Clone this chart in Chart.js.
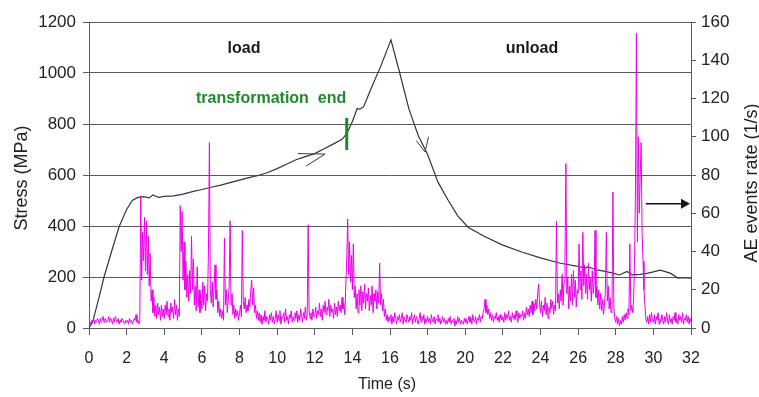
<!DOCTYPE html>
<html>
<head>
<meta charset="utf-8">
<script src="https://cdn.jsdelivr.net/npm/chart.js@4/dist/chart.umd.min.js"></script>
<style>
  body { margin: 0; background: #fff; }
  #wrap { width: 759px; height: 397px; }
</style>
</head>
<body>
<div id="wrap"><canvas id="myChart"></canvas></div>
<script>
/*--------------------------------------------------------------------*/
// stress curve (s, MPa)
const stressTime = [0, 0.2, 0.5, 0.8, 1.2, 1.6, 2.0, 2.3, 2.6, 2.9, 3.2, 3.4, 3.7, 4.0, 4.5, 5.0, 5.5, 6.0, 6.5, 7.0,
    7.5, 8.0, 8.5, 9.0, 9.5, 10.0, 10.5, 11.0, 11.5, 12.0, 12.5, 13.0, 13.45, 13.7, 14.0, 14.25, 14.4, 14.6, 15.0, 15.5,
    16.05, 16.5, 17.0, 17.5, 18.0, 18.55, 19.1, 19.6, 20.15, 21.0, 22.0, 23.0, 24.0, 25.0, 25.9, 26.4, 26.5, 27.0, 27.5, 27.9,
    28.2, 28.6, 28.9, 29.3, 29.65, 30.0, 30.35, 30.9, 31.3, 31.6, 32.0];
const stressValue = [0, 25, 110, 200, 300, 397, 465, 500, 512, 515, 510, 522, 512, 516, 518, 525, 535, 543, 552, 560,
    570, 580, 590, 598, 610, 625, 642, 660, 672, 684, 703, 722, 740, 762, 810, 860, 858, 868, 940, 1025,
    1130, 1005, 860, 755, 680, 572, 500, 440, 395, 360, 325, 298, 275, 255, 243, 235, 240, 228, 221, 214,
    208, 222, 208, 210, 214, 220, 227, 215, 196, 197, 195];

/*--------------------------------------------------------------------*/
// AE events rate (1/s), one value every 0.05 s
const aeStep = 0.05;
const aeRateLoad = [
    1,3,2,4,3,5,2,4,3,5,4,2,5,3,4,6,3,5,4,3,
    4,6,3,5,4,2,5,3,6,4,3,5,2,4,3,5,4,3,2,4,
    3,4,2,5,3,4,2,3,5,4,7,3,4,2,4,69,25,50,35,58,
    30,56,28,48,22,39,14,20,8,16,6,12,5,13,7,11,4,12,6,10,
    5,12,7,14,6,10,4,13,8,11,5,15,7,12,4,10,6,64,40,61,
    25,45,20,35,16,28,14,30,18,48,20,36,12,22,9,32,11,20,8,18,
    10,24,12,22,9,18,14,40,97,20,13,24,11,22,33,15,20,8,14,6,
    10,5,9,4,47,12,20,8,14,22,56,12,18,7,12,5,10,6,9,4,
    8,12,6,51,14,10,16,8,12,9,15,11,20,25,12,21,8,12,5,9,
    4,8,3,7,2,6,4,9,3,6,5,2,7,4,8,3,6,2,5,9,
    3,7,4,9,2,6,5,8,3,10,4,6,2,7,5,9,3,6,4,8,
    5,9,3,7,4,10,6,3,8,5,11,4,7,54,9,5,8,4,10,6,
    6,11,5,9,7,13,6,10,4,12,8,14,7,11,9,15,6,12,8,10,
    5,13,7,11,6,14,9,12,8,16,10,13,7,22,35,57,28,45,24,38,
    20,44,16,22,10,18,8,20,12,22,9,19,13,23,10,18,14,21,9,17,
    12,22,8,18,14,20,10,19,13,34,12,18,9,15,6,10,4,7,3,6
];
const aeRateUnload = [
    4,7,2,6,3,8,5,2,6,4,7,3,5,8,2,6,4,3,7,5,
    3,6,4,8,2,5,7,3,6,4,2,5,8,3,6,4,7,2,5,3,
    6,3,5,2,7,4,3,6,2,5,4,7,3,5,2,4,6,3,5,2,
    4,2,5,3,6,2,4,3,5,1,4,2,6,3,5,2,4,3,2,5,
    3,5,2,4,6,3,5,2,7,4,3,6,2,5,4,7,3,6,5,8,
    10,15,8,12,7,10,5,8,4,7,3,6,5,8,4,6,3,7,5,4,
    6,3,8,4,7,5,9,4,6,3,8,5,7,4,9,6,3,8,5,7,
    6,9,4,8,5,11,7,10,6,12,8,14,7,13,9,15,10,18,23,12,
    8,14,6,12,9,16,7,13,5,11,8,15,10,14,7,12,9,56,13,18,
    10,20,14,28,12,24,35,86,18,26,10,22,14,28,12,30,16,25,11,20,
    18,44,20,30,15,50,22,33,18,28,15,34,20,26,14,30,18,24,51,16,
    22,12,20,10,18,9,15,7,12,20,50,14,22,10,16,8,12,71,10,5,
    3,6,2,5,1,4,2,6,3,7,4,8,5,10,7,44,9,12,8,15,
    35,74,154,45,100,60,80,97,50,35,20,12,5,3,6,2,7,3,8,4,
    3,7,2,6,4,8,2,5,3,7,4,2,6,3,8,4,2,7,3,5,
    2,6,4,8,3,5,2,7,4,6,3,8,2,5,4,7,3,6,2,5,
    3
];

/*--------------------------------------------------------------------*/
// puntos para el grafico
const stressPoints = stressTime.map((t, i) => ({ x: t, y: stressValue[i] }));
const aeRate = aeRateLoad.concat(aeRateUnload);
const aePoints = aeRate.map((v, i) => ({ x: +(i * aeStep).toFixed(2), y: v }));

const font = '"Liberation Sans", Arial, sans-serif';
const gridColor = '#5a5a5a';
const plain = (v) => String(v);

/*--------------------------------------------------------------------*/
// textos, flechas y titulos de ejes
const notes = {
    id: 'notes',
    afterDatasetsDraw(chart) {
        const ctx = chart.ctx;
        const x = chart.scales.x, y = chart.scales.y, y1 = chart.scales.y1;
        const area = chart.chartArea;
        ctx.save();

        ctx.textAlign = 'center';
        ctx.textBaseline = 'middle';
        ctx.fillStyle = '#1a1a1a';
        ctx.font = 'bold 16px ' + font;
        ctx.fillText('load', x.getPixelForValue(8.24), y.getPixelForValue(1094));
        ctx.fillText('unload', x.getPixelForValue(23.55), y.getPixelForValue(1094));

        ctx.fillStyle = '#1d8a2c';
        ctx.fillText('transformation  end', x.getPixelForValue(9.68), y.getPixelForValue(898));

        // marca fin de transformacion
        ctx.strokeStyle = '#1d8a2c';
        ctx.lineWidth = 3;
        ctx.beginPath();
        ctx.moveTo(x.getPixelForValue(13.7), y.getPixelForValue(824));
        ctx.lineTo(x.getPixelForValue(13.7), y.getPixelForValue(698));
        ctx.stroke();

        // flechas sobre la curva
        ctx.strokeStyle = '#3a3a4a';
        ctx.lineWidth = 1;
        const barb = (tip, a, b) => {
            ctx.beginPath();
            ctx.moveTo(x.getPixelForValue(a[0]), y.getPixelForValue(a[1]));
            ctx.lineTo(x.getPixelForValue(tip[0]), y.getPixelForValue(tip[1]));
            ctx.lineTo(x.getPixelForValue(b[0]), y.getPixelForValue(b[1]));
            ctx.stroke();
        };
        barb([12.55, 682], [11.1, 684], [11.54, 635]);
        barb([17.86, 690], [17.4, 735], [18.05, 750]);

        // flecha negra hacia el eje derecho
        const ay = y1.getPixelForValue(65);
        const ax0 = x.getPixelForValue(29.6), ax1 = x.getPixelForValue(32);
        ctx.strokeStyle = '#111';
        ctx.fillStyle = '#111';
        ctx.lineWidth = 1.5;
        ctx.beginPath();
        ctx.moveTo(ax0, ay);
        ctx.lineTo(ax1 - 8, ay);
        ctx.stroke();
        ctx.beginPath();
        ctx.moveTo(ax1 - 1, ay);
        ctx.lineTo(ax1 - 10, ay - 5);
        ctx.lineTo(ax1 - 10, ay + 5);
        ctx.closePath();
        ctx.fill();

        // titulos
        ctx.fillStyle = '#222';
        ctx.font = '18px ' + font;
        ctx.save();
        ctx.translate(area.left - 67, 178);
        ctx.rotate(-Math.PI / 2);
        ctx.fillText('Stress (MPa)', 0, 0);
        ctx.restore();
        ctx.save();
        ctx.translate(area.right + 61, 183);
        ctx.rotate(-Math.PI / 2);
        ctx.fillText('AE events rate (1/s)', 0, 0);
        ctx.restore();
        ctx.font = '16px ' + font;
        ctx.fillText('Time (s)', 387, 385);

        ctx.restore();
    }
};

/*--------------------------------------------------------------------*/
// grafico
const ctx = document.getElementById('myChart');
const myChart = new Chart(ctx, {
    type: 'line',
    data: {
        datasets: [{
            label: 'AE events rate',
            data: aePoints,
            yAxisID: 'y1',
            borderColor: 'rgb(236,0,236)',
            borderWidth: 1,
            pointRadius: 0,
            tension: 0
        }, {
            label: 'Stress',
            data: stressPoints,
            yAxisID: 'y',
            borderColor: '#33334a',
            borderWidth: 1.2,
            pointRadius: 0,
            tension: 0
        }]
    },
    options: {
        responsive: true,
        maintainAspectRatio: false,
        animation: false,
        layout: { padding: { top: 22, left: 0, right: 0, bottom: 0 } },
        plugins: {
            legend: { display: false },
            tooltip: { enabled: false }
        },
        scales: {
            x: {
                type: 'linear',
                min: 0,
                max: 32,
                afterFit: (s) => { s.height = 69; },
                border: { display: true, color: gridColor, width: 1 },
                grid: { drawOnChartArea: false, tickLength: 7, color: gridColor },
                ticks: { stepSize: 2, autoSkip: false, maxRotation: 0, padding: 14, color: '#222',
                    callback: plain, font: { family: font, size: 16 } }
            },
            y: {
                position: 'left',
                min: 0,
                max: 1200,
                afterFit: (s) => { s.width = 89; },
                border: { display: true, color: gridColor, width: 1 },
                grid: { color: gridColor, lineWidth: 1, tickLength: 6 },
                ticks: { stepSize: 200, padding: 7, color: '#222', callback: plain,
                    font: { family: font, size: 17 } }
            },
            y1: {
                position: 'right',
                min: 0,
                max: 160,
                afterFit: (s) => { s.width = 68; },
                border: { display: true, color: gridColor, width: 1 },
                grid: { drawOnChartArea: false, tickLength: 5, color: gridColor },
                ticks: { stepSize: 20, padding: 5, color: '#222', callback: plain,
                    font: { family: font, size: 17 } }
            }
        }
    },
    plugins: [notes]
});
</script>
</body>
</html>
